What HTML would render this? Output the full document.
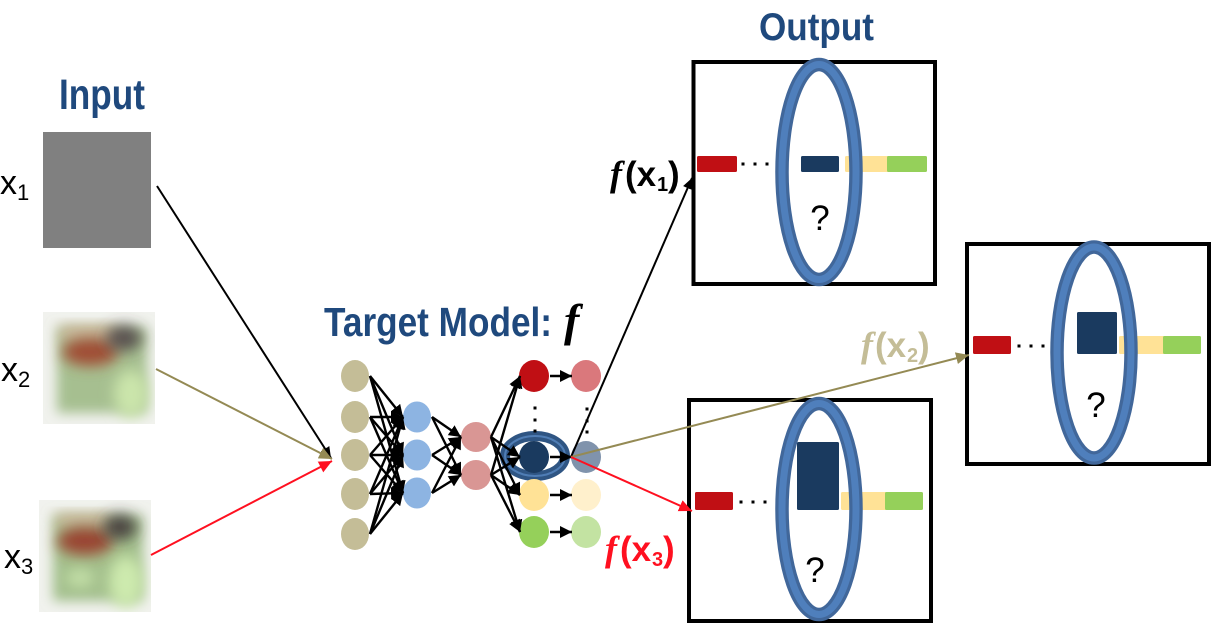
<!DOCTYPE html>
<html lang="en">
<head>
<meta charset="utf-8">
<title>Target model diagram</title>
<style>
html,body{margin:0;padding:0;background:#fff;width:1226px;height:636px;overflow:hidden}
svg{display:block}
.title{font-family:"Liberation Sans Narrow","Liberation Sans",sans-serif;fill:#1F497D;font-weight:700}
.lab{font-family:"Liberation Sans",sans-serif;fill:#000}
.fn{font-family:"Liberation Sans",sans-serif;font-weight:700}
.fi{font-family:"Liberation Serif",serif;font-style:italic;font-weight:700}
</style>
</head>
<body>
<svg id="diagram" xmlns="http://www.w3.org/2000/svg" width="1226" height="636" viewBox="0 0 1226 636">
<defs>
<marker id="hb" markerUnits="userSpaceOnUse" markerWidth="12" markerHeight="12" refX="11" refY="6" orient="auto"><path d="M0 1L11 6L0 11Z" fill="#000"/></marker>
<marker id="hk" markerUnits="userSpaceOnUse" markerWidth="14" markerHeight="14" refX="13" refY="7" orient="auto"><path d="M0 1L13 7L0 13Z" fill="#948A54"/></marker>
<marker id="hr" markerUnits="userSpaceOnUse" markerWidth="14" markerHeight="14" refX="13" refY="7" orient="auto"><path d="M0 1L13 7L0 13Z" fill="#FF1020"/></marker>
<marker id="hn" markerUnits="userSpaceOnUse" markerWidth="14" markerHeight="14" refX="12" refY="7" orient="auto"><path d="M0 1L12 7L0 13Z" fill="#000"/></marker>
<filter id="blur" x="-60%" y="-60%" width="220%" height="220%"><feGaussianBlur stdDeviation="7"/></filter>
<filter id="blurEdge" x="-30%" y="-30%" width="160%" height="160%"><feGaussianBlur stdDeviation="6"/></filter>
<clipPath id="c2"><rect x="43" y="312" width="112" height="112"/></clipPath>
<clipPath id="c3"><rect x="39" y="500" width="112" height="112"/></clipPath>
</defs>

<text class="title" x="59" y="109" font-size="43" textLength="86" lengthAdjust="spacingAndGlyphs">Input</text>
<text class="title" x="759" y="40" font-size="39" textLength="115" lengthAdjust="spacingAndGlyphs">Output</text>
<text class="title" x="324" y="336" font-size="41" textLength="228" lengthAdjust="spacingAndGlyphs">Target Model:</text>
<text class="fi" x="564" y="336" font-size="46" fill="#000">f</text>

<rect x="43" y="132" width="108" height="116" fill="#808080"/>

<g clip-path="url(#c2)">
<rect x="43" y="312" width="112" height="112" fill="#f1f2ee"/>
<rect x="57" y="327" width="90" height="86" fill="#a6bf90" filter="url(#blurEdge)"/>
<rect x="60" y="326" width="56" height="14" fill="#cdb59a" filter="url(#blur)"/>
<ellipse cx="90" cy="352" rx="28" ry="14" fill="#a04e35" filter="url(#blur)"/>
<ellipse cx="124" cy="338" rx="18" ry="13" fill="#4c4044" fill-opacity="0.85" filter="url(#blur)"/>
<ellipse cx="131" cy="394" rx="17" ry="24" fill="#cbe5ab" filter="url(#blur)"/>
</g>
<g clip-path="url(#c3)">
<rect x="39" y="500" width="112" height="112" fill="#f1f2ee"/>
<rect x="53" y="515" width="90" height="86" fill="#a3bf8c" filter="url(#blurEdge)"/>
<rect x="56" y="514" width="54" height="12" fill="#cdb59a" filter="url(#blur)"/>
<ellipse cx="85" cy="541" rx="28" ry="14" fill="#9a4430" filter="url(#blur)"/>
<ellipse cx="120" cy="527" rx="17" ry="13" fill="#3c3236" fill-opacity="0.85" filter="url(#blur)"/>
<ellipse cx="126" cy="582" rx="17" ry="26" fill="#cdeaae" filter="url(#blur)"/>
<ellipse cx="80" cy="578" rx="14" ry="9" fill="#c4e0a8" filter="url(#blur)"/>
</g>

<text class="lab" x="0" y="194" font-size="34">x<tspan font-size="22" dy="6">1</tspan></text>
<text class="lab" x="1" y="381" font-size="34">x<tspan font-size="22" dy="6">2</tspan></text>
<text class="lab" x="4" y="568" font-size="34">x<tspan font-size="22" dy="6">3</tspan></text>

<ellipse cx="535" cy="456" rx="30" ry="20" fill="none" stroke="#2F5583" stroke-width="10"/>
<ellipse cx="535" cy="456" rx="30" ry="20" fill="none" stroke="#4F7DB5" stroke-width="2"/>

<g id="network"></g>

<g id="panels"></g>

<line x1="157" y1="186" x2="331" y2="458" stroke="#000" stroke-width="2" marker-end="url(#hb)"/>
<line x1="156" y1="369" x2="332" y2="459" stroke="#948A54" stroke-width="2" marker-end="url(#hk)"/>
<line x1="151" y1="555" x2="332" y2="461" stroke="#FF1020" stroke-width="2" marker-end="url(#hr)"/>
<line x1="571" y1="457" x2="692" y2="178" stroke="#000" stroke-width="2" marker-end="url(#hb)"/>
<line x1="571" y1="457" x2="969" y2="355" stroke="#948A54" stroke-width="2" marker-end="url(#hk)"/>
<line x1="571" y1="457" x2="692" y2="511" stroke="#FF1020" stroke-width="2" marker-end="url(#hr)"/>

<text y="186" font-size="35" fill="#000"><tspan class="fi" x="610" font-size="36">f</tspan><tspan class="fn" x="625">(x</tspan><tspan class="fn" font-size="20" x="657" dy="5">1</tspan><tspan class="fn" x="668" dy="-5">)</tspan></text>
<text y="357" font-size="35" fill="#C4BD97"><tspan class="fi" x="861" font-size="36">f</tspan><tspan class="fn" x="875">(x</tspan><tspan class="fn" font-size="20" x="907" dy="5">2</tspan><tspan class="fn" x="918" dy="-5">)</tspan></text>
<text y="561" font-size="35" fill="#FF1020"><tspan class="fi" x="605" font-size="36">f</tspan><tspan class="fn" x="620">(x</tspan><tspan class="fn" font-size="20" x="652" dy="5">3</tspan><tspan class="fn" x="663" dy="-5">)</tspan></text>

<script>
var NS = 'http://www.w3.org/2000/svg';

/* Values */
var panelNames = ['output-x1', 'output-x3', 'output-x2'];
var redScores = [0.16, 0.18, 0.18];
var selectedScores = [0.16, 0.68, 0.42];
var yellowScores = [0.16, 0.18, 0.18];
var greenScores = [0.16, 0.18, 0.18];

var layerOneNodes = [376, 417, 455, 494, 534];
var layerTwoNodes = [417, 455, 493];
var layerThreeNodes = [437, 475];
var layerFourNodes = [376, 457, 495, 532];
var layerFourColors = ['#C00F14', '#1A3A5F', '#FFE296', '#95D05A'];
var layerFiveColors = ['#DA787C', '#8093AC', '#FFF0CC', '#C3E3A2'];

function yPx(base, v) { return base - v * 100; }

function mk(parent, tag, attrs) {
  var el = document.createElementNS(NS, tag);
  for (var k in attrs) { el.setAttribute(k, attrs[k]); }
  parent.appendChild(el);
  return el;
}

var net = document.getElementById('network');

function edges(fromX, fromYs, toX, toYs, name) {
  fromYs.forEach(function (a) {
    toYs.forEach(function (b) {
      var l = mk(net, 'line', {x1: fromX, y1: a, x2: toX, y2: b, stroke: '#000', 'stroke-width': 2.4, 'marker-end': 'url(#hn)'});
      
      
    });
  });
}

function nodes(cx, ys, rx, ry, colors, name) {
  ys.forEach(function (y, i) {
    var c = mk(net, 'ellipse', {cx: cx, cy: y, rx: rx, ry: ry, fill: colors[i % colors.length]});
    
    
  });
}

nodes(355, layerOneNodes, 14, 16, ['#C4BD97'], 'input-layer-node');
nodes(417, layerTwoNodes, 14, 15.5, ['#8DB4E2'], 'hidden-layer-one-node');
nodes(476, layerThreeNodes, 15, 15, ['#D99694'], 'hidden-layer-two-node');
nodes(534, layerFourNodes, 15, 16, layerFourColors, 'logit-layer-node');
nodes(586, layerFourNodes, 15, 16, layerFiveColors, 'output-layer-node');

edges(370, layerOneNodes, 403, layerTwoNodes, 'edge-input-to-hidden');
edges(432, layerTwoNodes, 461, layerThreeNodes, 'edge-hidden-to-hidden');
edges(491, layerThreeNodes, 520, layerFourNodes, 'edge-hidden-to-logit');
layerFourNodes.forEach(function (y) {
  var h = mk(net, 'line', {x1: 550, y1: y, x2: 572, y2: y, stroke: '#000', 'stroke-width': 2.4, 'marker-end': 'url(#hn)'});
  
  
});
[[535, 408], [535, 420], [535, 431], [587, 409], [587, 421], [587, 432]].forEach(function (p) {
  var d = mk(net, 'rect', {x: p[0] - 1.5, y: p[1] - 1.5, width: 3, height: 3, fill: '#000'});
  
  
});

var panelLayer = document.getElementById('panels');
var frames = [
  {x: 693.5, y: 62, w: 241.5, h: 222, base: 172, ex: 819, ey: 172, ery: 107.5, red: 697, redW: 40, navy: 801, navyW: 38, yel: 845, yelW: 44, grn: 887, grnW: 40, q: 820, qy: 230, dots: 743},
  {x: 689, y: 400, w: 242, h: 221, base: 510, ex: 819, ey: 509, ery: 105.5, red: 695, redW: 38, navy: 797, navyW: 42, yel: 841, yelW: 46, grn: 885, grnW: 38, q: 815, qy: 582, dots: 741},
  {x: 967, y: 244, w: 242, h: 220, base: 354, ex: 1094, ey: 352.5, ery: 105.5, red: 973, redW: 38, navy: 1077, navyW: 40, yel: 1119, yelW: 46, grn: 1163, grnW: 38, q: 1096, qy: 417, dots: 1019}
];

frames.forEach(function (f, i) {
  var g = mk(panelLayer, 'g', {});
  
  

  var box = mk(g, 'rect', {x: f.x, y: f.y, width: f.w, height: f.h, fill: 'none', stroke: '#000', 'stroke-width': 4});
  
  

  var r = mk(g, 'rect', {x: f.red, y: yPx(f.base, redScores[i]), width: f.redW, height: f.base - yPx(f.base, redScores[i]), rx: 1.5, fill: '#C00F14'});
  
  

  var y = mk(g, 'rect', {x: f.yel, y: yPx(f.base, yellowScores[i]), width: f.yelW, height: f.base - yPx(f.base, yellowScores[i]), rx: 1.5, fill: '#FFE296'});
  
  

  var gr = mk(g, 'rect', {x: f.grn, y: yPx(f.base, greenScores[i]), width: f.grnW, height: f.base - yPx(f.base, greenScores[i]), rx: 1.5, fill: '#95D05A'});
  
  

  var n = mk(g, 'rect', {x: f.navy, y: yPx(f.base, selectedScores[i]), width: f.navyW, height: f.base - yPx(f.base, selectedScores[i]), rx: 1.5, fill: '#1A3A5F'});
  
  

  [0, 12, 24].forEach(function (dx) {
    var d = mk(g, 'rect', {x: f.dots + dx - 1.5, y: f.base - 9.5, width: 3, height: 3, fill: '#000'});
    
    
  });

  var e1 = mk(g, 'ellipse', {cx: f.ex, cy: f.ey, rx: 37, ry: f.ery, fill: 'none', stroke: '#41679A', 'stroke-width': 13.5});
  
  

  var e2 = mk(g, 'ellipse', {cx: f.ex, cy: f.ey, rx: 37, ry: f.ery, fill: 'none', stroke: '#4F7FBC', 'stroke-width': 7});
  
  

  var q = mk(g, 'text', {x: f.q, y: f.qy, 'font-size': 35, 'text-anchor': 'middle', 'class': 'lab'});
  q.textContent = '?';
  
  
});
</script>
</svg>
</body>
</html>
